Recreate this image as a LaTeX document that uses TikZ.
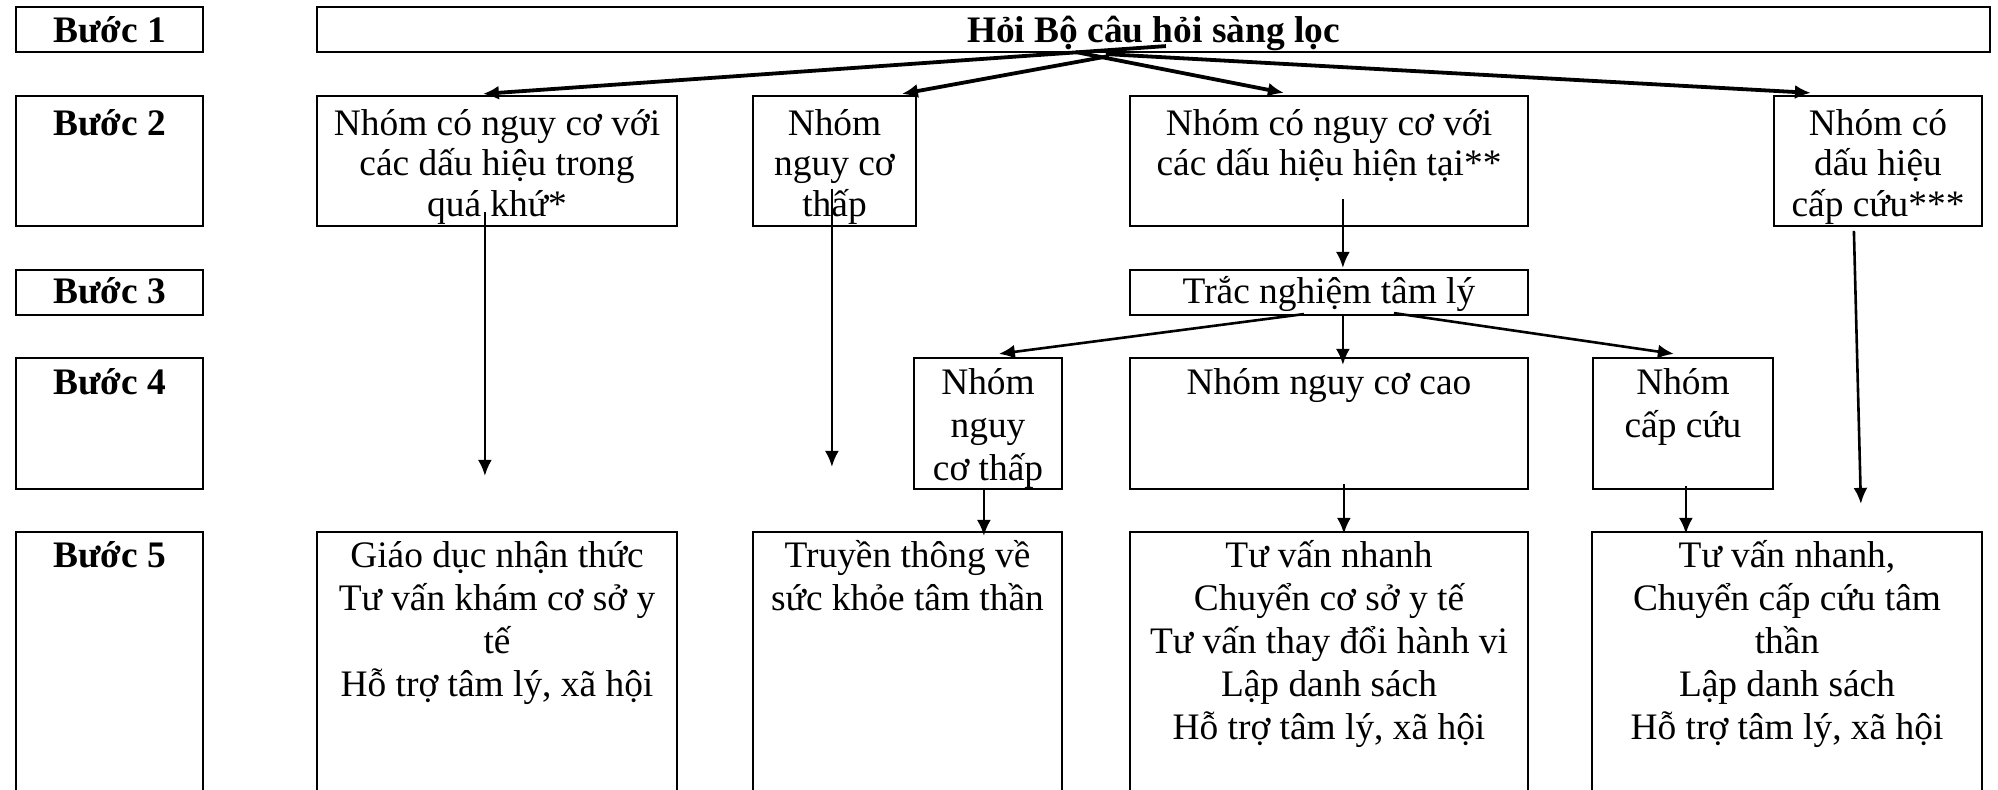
\documentclass[tikz,border=0pt]{standalone}
\usepackage{fontspec}
\setmainfont{Liberation Serif}
\usetikzlibrary{fit,calc,arrows.meta}
\newcommand\tstrut{\rule{0pt}{19.5pt}}
\tikzset{
  box/.style={draw, line width=1.1pt, inner sep=0pt},
  txt/.style={align=center, anchor=north, inner sep=0pt, font=\fontsize{18.7pt}{21.5pt}\selectfont},
  txttwo/.style={txt, font=\fontsize{18.7pt}{20.2pt}\selectfont},
  btxt/.style={txt, font=\fontsize{18.7pt}{21.5pt}\selectfont\bfseries},
  arr/.style={-{Latex[length=8pt,width=7pt]}, line width=1.3pt},
  arrT/.style={arr, line width=1.9pt}
}
\begin{document}
\begin{tikzpicture}[x=0.5pt,y=-0.5pt]
\clip (0,0) rectangle (1998,790);
\fill[white] (0,0) rectangle (1998,790);
% step column
\node[box, fit={(16,7) (203,52)}] (S1) {};
\node[box, fit={(16,96) (203,226)}] (S2) {};
\node[box, fit={(16,270) (203,315)}] (S3) {};
\node[box, fit={(16,358) (203,489)}] (S4) {};
\node[box, fit={(16,532) (203,800)}] (S5) {};
\node[btxt] (S1t) at (109.5,3) {\tstrut Bước 1};
\node[btxt] (S2t) at (109.5,96) {\tstrut Bước 2};
\node[btxt] (S3t) at (109.5,264) {\tstrut Bước 3};
\node[btxt] (S4t) at (109.5,355) {\tstrut Bước 4};
\node[btxt] (S5t) at (109.5,528) {\tstrut Bước 5};
% boxes
\node[box, fit={(317,7) (1990,52)}] (title) {};
\node[btxt] (titlet) at (1153.5,3) {\tstrut Hỏi Bộ câu hỏi sàng lọc};
\node[box, fit={(317,96) (677,226)}] (A) {};
\node[box, fit={(753,96) (916,226)}] (B) {};
\node[box, fit={(1130,96) (1528,226)}] (C) {};
\node[box, fit={(1774,96) (1982,226)}] (D) {};
\node[box, fit={(1130,270) (1528,315)}] (T) {};
\node[box, fit={(914,358) (1062,489)}] (E) {};
\node[box, fit={(1130,358) (1528,489)}] (F) {};
\node[box, fit={(1593,358) (1773,489)}] (G) {};
\node[box, fit={(317,532) (677,800)}] (H) {};
\node[box, fit={(753,532) (1062,800)}] (I) {};
\node[box, fit={(1130,532) (1528,800)}] (J) {};
\node[box, fit={(1592,532) (1982,800)}] (K) {};
% texts
\node[txttwo] (At) at (497,96) {\tstrut Nhóm có nguy cơ với\\các dấu hiệu trong\\quá khứ*};
\node[txttwo] (Bt) at (834.5,96) {\tstrut Nhóm\\nguy cơ\\thấp};
\node[txttwo] (Ct) at (1329,96) {\tstrut Nhóm có nguy cơ với\\các dấu hiệu hiện tại**};
\node[txttwo] (Dt) at (1878,96) {\tstrut Nhóm có\\dấu hiệu\\cấp cứu***};
\node[txt] (Tt) at (1329,264) {\tstrut Trắc nghiệm tâm lý};
\node[txt] (Et) at (988,355) {\tstrut Nhóm\\nguy\\cơ thấp};
\node[txt] (Ft) at (1329,355) {\tstrut Nhóm nguy cơ cao};
\node[txt] (Gt) at (1683,355) {\tstrut Nhóm\\cấp cứu};
\node[txt] (Ht) at (497,528) {\tstrut Giáo dục nhận thức\\Tư vấn khám cơ sở y\\tế\\Hỗ trợ tâm lý, xã hội};
\node[txt] (It) at (907.5,528) {\tstrut Truyền thông về\\sức khỏe tâm thần};
\node[txt] (Jt) at (1329,528) {\tstrut Tư vấn nhanh\\Chuyển cơ sở y tế\\Tư vấn thay đổi hành vi\\Lập danh sách\\Hỗ trợ tâm lý, xã hội};
\node[txt] (Kt) at (1787,528) {\tstrut Tư vấn nhanh,\\Chuyển cấp cứu tâm\\thần\\Lập danh sách\\Hỗ trợ tâm lý, xã hội};
% connectors
\draw[arrT] ($(title.south west)+(850,-7)$) -- ($(A.north west)+(167,-1)$);
\draw[arrT] ($(title.south west)+(793,3)$) -- ($(B.north west)+(150,-1)$);
\draw[arrT] ($(title.south west)+(760,-1)$) -- ($(C.north west)+(155,-2)$);
\draw[arrT] ($(title.south west)+(790,1)$) -- ($(D.north west)+(38,-2)$);
\draw[arr] ($(A.north west)+(169,117)$) -- ($(H.north west)+(169,-55)$);
\draw[arr] ($(B.north west)+(80,94)$) -- ($(I.north west)+(80,-64)$);
\draw[arr] ($(C.north west)+(214,104)$) -- ($(T.north west)+(214,-1)$);
\draw[arr] ($(D.north west)+(81,136)$) -- ($(K.north west)+(270,-27)$);
\draw[arr] ($(T.south west)+(175,-2)$) -- ($(E.north west)+(86,-3)$);
\draw[arr] ($(T.south west)+(214,0)$) -- ($(F.north west)+(214,8)$);
\draw[arr] ($(T.south west)+(265,-3)$) -- ($(G.north west)+(82,-3)$);
\draw[arr] ($(E.south west)+(71,0)$) -- ($(I.north west)+(232,5)$);
\draw[arr] ($(F.south west)+(215,-6)$) -- ($(J.north west)+(215,3)$);
\draw[arr] ($(G.south west)+(94,-4)$) -- ($(K.north west)+(95,3)$);
\end{tikzpicture}
\end{document}
